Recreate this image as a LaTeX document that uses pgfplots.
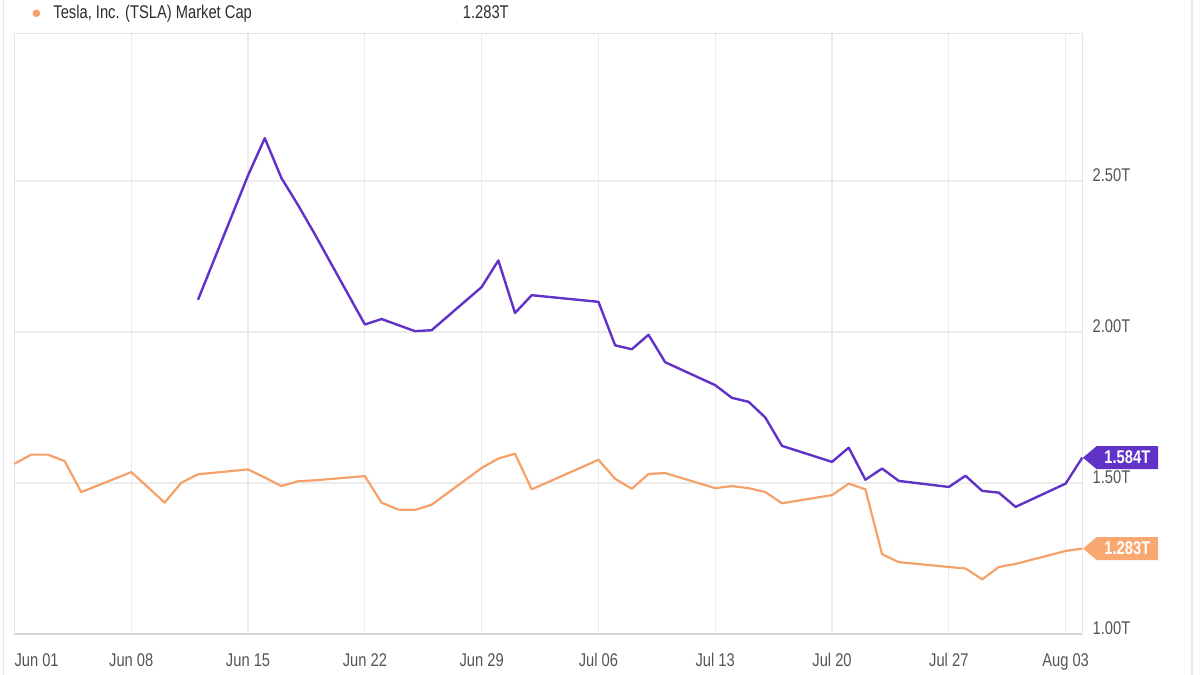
\documentclass[border=0pt]{standalone}
\usepackage{fontspec}
\setmainfont{Liberation Sans}[FakeStretch=0.8]
\usepackage{pgfplots}
\usepackage{pgfplotstable}
\pgfplotsset{compat=1.18}
\usetikzlibrary{shapes.symbols}
\definecolor{tpurple}{RGB}{96,50,200}
\definecolor{torange}{RGB}{245,162,106}
\definecolor{tagorange}{RGB}{248,168,112}
\definecolor{gridc}{RGB}{236,236,236}
\definecolor{ticktext}{RGB}{85,85,85}
\definecolor{legtext}{RGB}{45,45,45}

% day index: 0 = Jun 01
\pgfplotstableread{
d v
0 1.564
1 1.594
2 1.594
3 1.573
4 1.470
7 1.536
8 1.486
9 1.435
10 1.501
11 1.529
14 1.545
15 1.518
16 1.490
17 1.506
18 1.509
21 1.523
22 1.435
23 1.412
24 1.411
25 1.428
28 1.550
29 1.581
30 1.597
31 1.479
35 1.577
36 1.514
37 1.481
38 1.530
39 1.533
42 1.483
43 1.490
44 1.483
45 1.470
46 1.433
49 1.460
50 1.498
51 1.479
52 1.264
53 1.238
56 1.222
57 1.217
58 1.181
59 1.222
60 1.232
63 1.275
64 1.283
}\tsla

\pgfplotstableread{
d v
11 2.107
14 2.519
15 2.642
16 2.510
17 2.420
18 2.324
21 2.025
22 2.043
23 2.023
24 2.003
25 2.006
28 2.149
29 2.237
30 2.063
31 2.122
35 2.100
36 1.956
37 1.943
38 1.991
39 1.900
42 1.824
43 1.782
44 1.769
45 1.717
46 1.623
49 1.570
50 1.617
51 1.511
52 1.548
53 1.507
56 1.487
57 1.524
58 1.474
59 1.468
60 1.421
63 1.498
64 1.584
}\other

\begin{document}
\begin{tikzpicture}[x=1pt,y=1pt]
\fill[white] (0,0) rectangle (600,337.5);
\useasboundingbox (0,0) rectangle (600,337.5);
\draw[gray!18, line width=0.6pt] (1.9,0) -- (1.9,337.5);
\draw[gray!18, line width=0.6pt] (596,0) -- (596,337.5);
\begin{axis}[
  at={(7.25pt,20.5pt)}, anchor=south west,
  scale only axis, width=533.9pt, height=300.15pt,
  xmin=0, xmax=64, ymin=1, ymax=2.988,
  clip=false,
  xtick={0,7,14,21,28,35,42,49,56,63},
  xticklabels={\rlap{Jun 01},Jun 08,Jun 15,Jun 22,Jun 29,Jul 06,Jul 13,Jul 20,Jul 27,Aug 03},
  ytick={1,1.5,2,2.5},
  yticklabels={1.00T,1.50T,2.00T,2.50T},
  yticklabel pos=right,
  major tick length=0pt,
  grid=major,
  major grid style={draw=gridc, line width=0.6pt},
  axis line style={draw=gray!20, line width=0.6pt},
  tick label style={font=\fontsize{9.2}{10}\selectfont, text=ticktext, inner sep=0pt},
  xticklabel style={anchor=base, yshift=-16pt},
  yticklabel style={anchor=base west, xshift=5pt},
  legend style={draw=none, fill=none, at={(axis description cs:0,1)}, anchor=west,
    xshift=9.05pt, yshift=10.2pt, inner sep=0pt, outer sep=0pt,
    font=\fontsize{9.2}{10}\selectfont, text=legtext, nodes={inner sep=0pt}},
  legend cell align=left,
]
\draw[gray!32, line width=0.9pt] (rel axis cs:0,0) -- (rel axis cs:1,0);
\addplot[torange, line width=1.1pt, line join=round, mark=none,
  legend image code/.code={\fill[torange, draw=none] (1.9pt,0pt) circle (1.9pt); \path[draw=none, fill=none] (0pt,0pt) -- (10.4pt,0pt);}]
  table[x=d, y=v] {\tsla};
\addlegendentry{\makebox[227.65pt][l]{Tesla, Inc. (TSLA) Market Cap\hfill 1.283T}}
\addplot[tpurple, line width=1.2pt, line join=round, mark=none, forget plot]
  table[x=d, y=v] {\other};
\addplot[draw=none, mark=none, forget plot,
  nodes near coords={1.584T},
  every node near coord/.append style={shape=signal, signal to=west, signal pointer angle=80,
    fill=tpurple, text=white, anchor=west, inner xsep=3.9pt, inner ysep=0pt,
    minimum height=11.5pt, font=\fontsize{9.2}{10}\selectfont\bfseries}]
  coordinates {(64,1.584)};
\addplot[draw=none, mark=none, forget plot,
  nodes near coords={1.283T},
  every node near coord/.append style={shape=signal, signal to=west, signal pointer angle=80,
    fill=tagorange, text=white, anchor=west, inner xsep=3.9pt, inner ysep=0pt,
    minimum height=11.5pt, font=\fontsize{9.2}{10}\selectfont\bfseries}]
  coordinates {(64,1.283)};
\end{axis}
\end{tikzpicture}
\end{document}
